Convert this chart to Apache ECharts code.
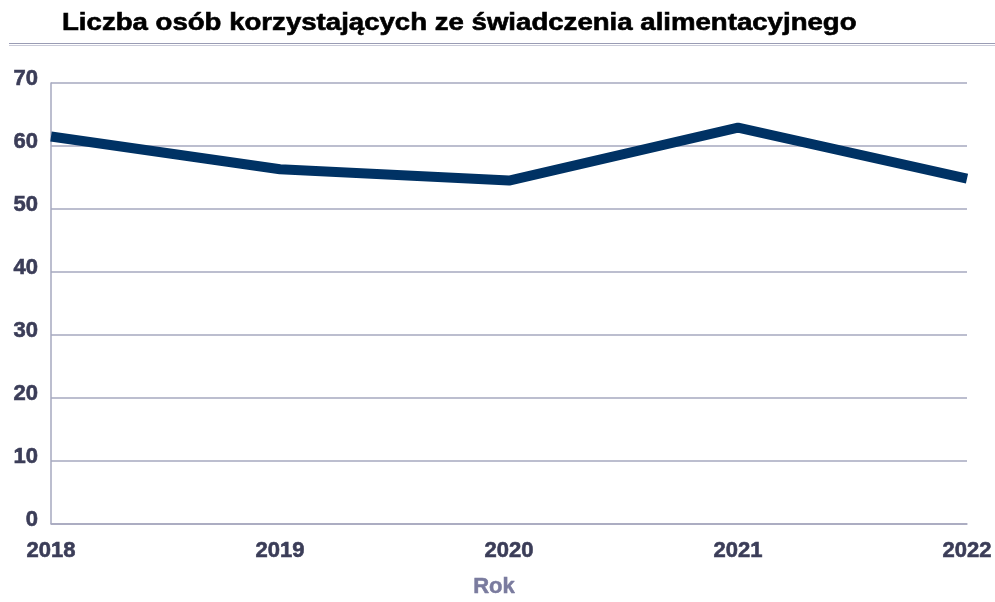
<!DOCTYPE html>
<html>
<head>
<meta charset="utf-8">
<script src="https://cdn.jsdelivr.net/npm/echarts@6/dist/echarts.min.js"></script>
<style>
  html, body { margin: 0; padding: 0; background: #fff; }
  #chart { width: 995px; height: 602px; }
</style>
</head>
<body>
<div id="chart"></div>
<script>
// Number of people receiving maintenance allowance, per year
const years = ['2018', '2019', '2020', '2021', '2022'];
const recipients = [61.5, 56.3, 54.5, 62.9, 54.8];
const yTicks = { min: 0, max: 70, interval: 10 };

const titleText = 'Liczba osób korzystających ze świadczenia alimentacyjnego';
const axisNameX = 'Rok';

const FONT = '"Liberation Sans", Arial, sans-serif';
const labelColor = '#3b3d58';
const gridColor = '#a6a8bf';

const tickLabel = {
  fontFamily: FONT, fontSize: 22, fontWeight: 'bold', color: labelColor,
  textBorderColor: labelColor, textBorderWidth: 0.6
};

const chart = echarts.init(document.getElementById('chart'));
chart.setOption({
  animation: false,
  backgroundColor: '#ffffff',
  graphic: [
    {
      // heading, drawn slightly widened
      type: 'text', x: 62, y: 23, scaleX: 1.15,
      style: {
        text: titleText, fontFamily: FONT, fontSize: 24, fontWeight: 'bold',
        fill: '#000000', stroke: '#000000', lineWidth: 0.6, verticalAlign: 'middle'
      }
    },
    { type: 'line', shape: { x1: 9, y1: 43.5, x2: 995, y2: 43.5 }, style: { stroke: '#9a9cb4', lineWidth: 1 } },
    { type: 'line', shape: { x1: 9, y1: 45.5, x2: 995, y2: 45.5 }, style: { stroke: '#c9cad8', lineWidth: 1 } },
    {
      type: 'text', x: 494, y: 587,
      style: {
        text: axisNameX, fontFamily: FONT, fontSize: 22, fontWeight: 'bold',
        fill: '#7a7b9e', stroke: '#7a7b9e', lineWidth: 0.5, align: 'center', verticalAlign: 'middle'
      }
    }
  ],
  grid: { left: 51, right: 28, top: 83, bottom: 78.5, containLabel: false },
  xAxis: {
    type: 'category',
    data: years,
    boundaryGap: false,
    axisLine: { lineStyle: { color: gridColor, width: 1.5 } },
    axisTick: { show: false },
    axisLabel: Object.assign({ margin: 16 }, tickLabel),
    splitLine: { show: false }
  },
  yAxis: {
    type: 'value',
    min: yTicks.min, max: yTicks.max, interval: yTicks.interval,
    axisLine: { show: true, lineStyle: { color: gridColor, width: 1.5 } },
    axisTick: { show: false },
    axisLabel: Object.assign({ margin: 13, verticalAlign: 'bottom', lineHeight: 8 }, tickLabel),
    splitLine: { lineStyle: { color: gridColor, width: 1.5 } }
  },
  series: [{
    type: 'line',
    data: recipients,
    symbol: 'none',
    lineStyle: { color: '#003264', width: 10, join: 'round', cap: 'butt' }
  }]
});
</script>
</body>
</html>
